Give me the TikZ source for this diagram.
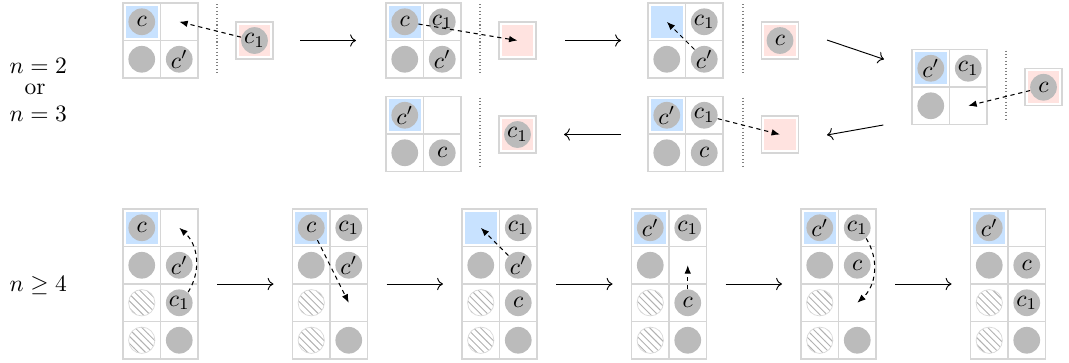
\documentclass[tikz,border=0pt]{standalone}
\usetikzlibrary{patterns,arrows.meta}
\definecolor{gridc}{RGB}{214,214,214}
\definecolor{discc}{RGB}{187,187,187}
\definecolor{bluec}{RGB}{200,226,255}
\definecolor{pinkc}{RGB}{255,227,224}
\tikzset{
 cell/.style={draw=gridc, line width=0.45pt, minimum size=15.96pt, inner sep=0pt},
 bluebg/.style={fill=bluec, minimum size=13.6pt, inner sep=0pt},
 disc/.style={circle, fill=discc, minimum size=11.36pt, inner sep=0pt},
 hatch/.style={circle, draw=black!15, line width=0.3pt, pattern=north west lines, pattern color=black!30, minimum size=11.2pt, inner sep=0pt},
 pinkframe/.style={draw=gridc, line width=0.45pt, minimum size=15.74pt, inner sep=0pt},
 pinkbg/.style={fill=pinkc, minimum size=13.5pt, inner sep=0pt},
 sep/.style={draw=black!50, densely dotted, line width=0.45pt},
 stagearrow/.style={->, line width=0.4pt},
 move/.style={-{Latex[length=3.6pt,width=2.8pt]}, dash pattern=on 1.8pt off 1.6pt, line width=0.45pt},
 lab/.style={anchor=base, inner sep=0pt}
}
\newcommand\mkgrid[4]{\foreach \r in {1,...,#4}{\foreach \c in {1,2}{\node[cell] (#1-\r-\c) at ({#2+(\c-0.5)*37.5},{#3+(\r-0.5)*37.5}) {};}}}
\newcommand\mkpink[3]{\node[pinkbg] (#1bg) at (#2,#3) {};\node[pinkframe] (#1) at (#2,#3) {};}
\begin{document}
\begin{tikzpicture}[x=0.4255pt,y=-0.4255pt]
\useasboundingbox (0,0) rectangle (1069,362);
% labels
\node[lab] (l2) at (38.3,73) {$n=2$};
\node[lab] (lor) at (35,94) {or};
\node[lab] (l3) at (38.3,121.7) {$n=3$};
\node[lab] (l4) at (38.3,291.7) {$n\geq 4$};

% ---------- top row ----------
% A
\mkgrid{A}{123}{3}{2}
\node[bluebg] (Ab) at (A-1-1) {};
\node[disc] (Ac) at (A-1-1) {$c$};
\node[disc] (Ad) at (A-2-1) {};
\node[disc] (Acp) at (A-2-2) {$c'$};
\draw[sep] (217,4) -- (217,75);
\mkpink{pA}{254.5}{40.5}
\node[disc] (pAc1) at (pA) {$c_1$};
\draw[move] (pAc1) -- (A-1-2.center);
% B
\mkgrid{B}{386}{3}{2}
\node[bluebg] (Bb) at (B-1-1) {};
\node[disc] (Bc) at (B-1-1) {$c$};
\node[disc] (Bc1) at (B-1-2) {$c_1$};
\node[disc] (Bd) at (B-2-1) {};
\node[disc] (Bcp) at (B-2-2) {$c'$};
\draw[sep] (480,4) -- (480,75);
\mkpink{pB}{517.5}{40.5}
\draw[move] (Bc) -- (pB.center);
% C
\mkgrid{C}{648}{3}{2}
\node[bluebg] (Cb) at (C-1-1) {};
\node[disc] (Cc1) at (C-1-2) {$c_1$};
\node[disc] (Cd) at (C-2-1) {};
\node[disc] (Ccp) at (C-2-2) {$c'$};
\draw[sep] (743,4) -- (743,75);
\mkpink{pC}{780}{40.5}
\node[disc] (pCc) at (pC) {$c$};
\draw[move] (Ccp) -- (C-1-1.center);
% D
\mkgrid{D}{912}{49.5}{2}
\node[bluebg] (Db) at (D-1-1) {};
\node[disc] (Dcp) at (D-1-1) {$c'$};
\node[disc] (Dc1) at (D-1-2) {$c_1$};
\node[disc] (Dd) at (D-2-1) {};
\draw[sep] (1006,50.5) -- (1006,121.5);
\mkpink{pD}{1043.5}{87.25}
\node[disc] (pDc) at (pD) {$c$};
\draw[move] (pDc) -- (D-2-2.center);
% E
\mkgrid{E}{648}{96.5}{2}
\node[bluebg] (Eb) at (E-1-1) {};
\node[disc] (Ecp) at (E-1-1) {$c'$};
\node[disc] (Ec1) at (E-1-2) {$c_1$};
\node[disc] (Ed) at (E-2-1) {};
\node[disc] (Ec) at (E-2-2) {$c$};
\draw[sep] (743,97.5) -- (743,168.5);
\mkpink{pE}{780}{134.5}
\draw[move] (Ec1) -- (pE.center);
% F
\mkgrid{F}{386}{96.5}{2}
\node[bluebg] (Fb) at (F-1-1) {};
\node[disc] (Fcp) at (F-1-1) {$c'$};
\node[disc] (Fd) at (F-2-1) {};
\node[disc] (Fc) at (F-2-2) {$c$};
\draw[sep] (480,97.5) -- (480,168.5);
\mkpink{pF}{517.5}{134.5}
\node[disc] (pFc1) at (pF) {$c_1$};
% stage arrows (top)
\coordinate (t1a) at (300,40.5); \coordinate (t1b) at (356,40.5);
\coordinate (t2a) at (565,40.5); \coordinate (t2b) at (621,40.5);
\coordinate (t3a) at (827,40); \coordinate (t3b) at (884,59.3);
\coordinate (t4a) at (883.3,125); \coordinate (t4b) at (827,135);
\coordinate (t5a) at (621,134.5); \coordinate (t5b) at (564,134.5);
\draw[stagearrow] (t1a) -- (t1b);
\draw[stagearrow] (t2a) -- (t2b);
\draw[stagearrow] (t3a) -- (t3b);
\draw[stagearrow] (t4a) -- (t4b);
\draw[stagearrow] (t5a) -- (t5b);

% ---------- bottom row ----------
% G1
\mkgrid{G1}{123}{209}{4}
\node[bluebg] (G1b) at (G1-1-1) {};
\node[disc] (G1c) at (G1-1-1) {$c$};
\node[disc] (G1d) at (G1-2-1) {};
\node[disc] (G1cp) at (G1-2-2) {$c'$};
\node[hatch] (G1h1) at (G1-3-1) {};
\node[disc] (G1c1) at (G1-3-2) {$c_1$};
\node[hatch] (G1h2) at (G1-4-1) {};
\node[disc] (G1e) at (G1-4-2) {};
\draw[move] (G1c1) to[bend right=40] (G1-1-2.center);
% G2
\mkgrid{G2}{292.5}{209}{4}
\node[bluebg] (G2b) at (G2-1-1) {};
\node[disc] (G2c) at (G2-1-1) {$c$};
\node[disc] (G2c1) at (G2-1-2) {$c_1$};
\node[disc] (G2d) at (G2-2-1) {};
\node[disc] (G2cp) at (G2-2-2) {$c'$};
\node[hatch] (G2h1) at (G2-3-1) {};
\node[hatch] (G2h2) at (G2-4-1) {};
\node[disc] (G2e) at (G2-4-2) {};
\draw[move] (G2c) -- (G2-3-2.center);
% G3
\mkgrid{G3}{462}{209}{4}
\node[bluebg] (G3b) at (G3-1-1) {};
\node[disc] (G3c1) at (G3-1-2) {$c_1$};
\node[disc] (G3d) at (G3-2-1) {};
\node[disc] (G3cp) at (G3-2-2) {$c'$};
\node[hatch] (G3h1) at (G3-3-1) {};
\node[disc] (G3c) at (G3-3-2) {$c$};
\node[hatch] (G3h2) at (G3-4-1) {};
\node[disc] (G3e) at (G3-4-2) {};
\draw[move] (G3cp) -- (G3-1-1.center);
% G4
\mkgrid{G4}{631.5}{209}{4}
\node[bluebg] (G4b) at (G4-1-1) {};
\node[disc] (G4cp) at (G4-1-1) {$c'$};
\node[disc] (G4c1) at (G4-1-2) {$c_1$};
\node[disc] (G4d) at (G4-2-1) {};
\node[hatch] (G4h1) at (G4-3-1) {};
\node[disc] (G4c) at (G4-3-2) {$c$};
\node[hatch] (G4h2) at (G4-4-1) {};
\node[disc] (G4e) at (G4-4-2) {};
\draw[move] (G4c) -- (G4-2-2.center);
% G5
\mkgrid{G5}{801}{209}{4}
\node[bluebg] (G5b) at (G5-1-1) {};
\node[disc] (G5cp) at (G5-1-1) {$c'$};
\node[disc] (G5c1) at (G5-1-2) {$c_1$};
\node[disc] (G5d) at (G5-2-1) {};
\node[disc] (G5c) at (G5-2-2) {$c$};
\node[hatch] (G5h1) at (G5-3-1) {};
\node[hatch] (G5h2) at (G5-4-1) {};
\node[disc] (G5e) at (G5-4-2) {};
\draw[move] (G5c1) to[bend left=40] (G5-3-2.center);
% G6
\mkgrid{G6}{970.5}{209}{4}
\node[bluebg] (G6b) at (G6-1-1) {};
\node[disc] (G6cp) at (G6-1-1) {$c'$};
\node[disc] (G6d) at (G6-2-1) {};
\node[disc] (G6c) at (G6-2-2) {$c$};
\node[hatch] (G6h1) at (G6-3-1) {};
\node[disc] (G6c1) at (G6-3-2) {$c_1$};
\node[hatch] (G6h2) at (G6-4-1) {};
\node[disc] (G6e) at (G6-4-2) {};
% stage arrows (bottom)
\coordinate (b1a) at (217,284); \coordinate (b1b) at (273.5,284);
\coordinate (b2a) at (386.5,284); \coordinate (b2b) at (443,284);
\coordinate (b3a) at (556,284); \coordinate (b3b) at (612.5,284);
\coordinate (b4a) at (725.5,284); \coordinate (b4b) at (782,284);
\coordinate (b5a) at (895,284); \coordinate (b5b) at (951.5,284);
\draw[stagearrow] (b1a) -- (b1b);
\draw[stagearrow] (b2a) -- (b2b);
\draw[stagearrow] (b3a) -- (b3b);
\draw[stagearrow] (b4a) -- (b4b);
\draw[stagearrow] (b5a) -- (b5b);
\end{tikzpicture}
\end{document}
